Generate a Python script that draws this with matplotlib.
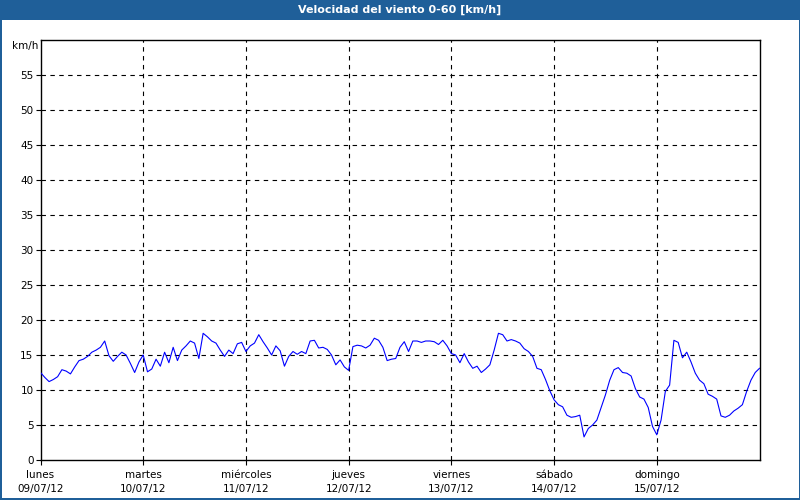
import numpy as np
import matplotlib
matplotlib.use("Agg")
import matplotlib.pyplot as plt
from matplotlib.patches import Rectangle

title = "Velocidad del viento 0-60 [km/h]"
unit_label = "km/h"
day_names = ["lunes", "martes", "miércoles", "jueves", "viernes", "sábado", "domingo"]
day_dates = ["09/07/12", "10/07/12", "11/07/12", "12/07/12", "13/07/12", "14/07/12", "15/07/12"]

# hourly wind speed (km/h), one list per day
mon = [12.5, 11.8, 11.2, 11.5, 11.9, 12.9, 12.7, 12.3, 13.3, 14.2, 14.4, 14.8,
       15.4, 15.7, 16.1, 17.0, 14.9, 14.1, 14.8, 15.4, 15.0, 13.8, 12.5, 14.0]
tue = [15.0, 12.6, 13.0, 14.4, 13.4, 15.4, 13.9, 16.1, 14.2, 15.7, 16.3, 17.0,
       16.7, 14.5, 18.1, 17.6, 17.0, 16.7, 15.7, 14.8, 15.7, 15.2, 16.6, 16.8]
wed = [15.5, 16.3, 16.7, 17.9, 16.9, 16.0, 15.0, 16.3, 15.6, 13.4, 14.8, 15.5,
       15.1, 15.5, 15.2, 17.0, 17.1, 16.0, 16.1, 15.8, 15.0, 13.6, 14.3, 13.3]
thu = [12.8, 16.2, 16.4, 16.3, 16.0, 16.4, 17.4, 17.1, 16.1, 14.2, 14.4, 14.5,
       16.1, 16.9, 15.5, 17.0, 17.0, 16.8, 17.0, 17.0, 16.9, 16.5, 17.1, 16.3]
fri = [15.2, 15.0, 13.9, 15.2, 14.0, 13.1, 13.4, 12.5, 13.0, 13.6, 15.7, 18.1,
       17.9, 17.0, 17.2, 17.0, 16.7, 15.9, 15.5, 14.8, 13.1, 12.9, 11.5, 9.9]
sat = [8.6, 7.9, 7.6, 6.4, 6.1, 6.2, 6.4, 3.3, 4.5, 5.0, 5.7, 7.5,
       9.3, 11.4, 12.9, 13.2, 12.5, 12.4, 12.0, 10.2, 9.0, 8.7, 7.5, 4.8]
sun = [3.6, 5.7, 9.8, 10.7, 17.1, 16.8, 14.6, 15.4, 14.0, 12.4, 11.4, 10.9,
       9.4, 9.1, 8.7, 6.3, 6.1, 6.4, 7.0, 7.4, 7.9, 9.8, 11.4, 12.5, 13.1]

speed = np.array(mon + tue + wed + thu + fri + sat + sun)
t = np.arange(len(speed)) / 24.0  # days since start

W, H = 800, 500
fig = plt.figure(figsize=(8, 5), dpi=100)
fig.patch.set_facecolor("white")

bar_blue = "#1f5f99"
fig.patches.append(Rectangle((0, 1 - 20 / H), 1, 20 / H, transform=fig.transFigure,
                             facecolor=bar_blue, edgecolor="none", zorder=0))
fig.patches.append(Rectangle((0, 0), 1.5 / W, 1, transform=fig.transFigure,
                             facecolor=bar_blue, edgecolor="none"))
fig.patches.append(Rectangle((1 - 1.5 / W, 0), 1.5 / W, 1, transform=fig.transFigure,
                             facecolor=bar_blue, edgecolor="none"))
fig.patches.append(Rectangle((0, 0), 1, 2 / H, transform=fig.transFigure,
                             facecolor=bar_blue, edgecolor="none"))
fig.text(0.5, 1 - 10 / H, title, color="white", fontsize=8, fontweight="bold",
         ha="center", va="center", family="DejaVu Sans")

x0, x1 = 40.5, 759.5
y0, y1 = 460, 40
ax = fig.add_axes([x0 / W, 1 - y0 / H, (x1 - x0) / W, (y0 - y1) / H])
ax.set_xlim(0, 7)
ax.set_ylim(0, 60)

for yv in range(5, 60, 5):
    ax.axhline(yv, color="black", lw=0.8, dashes=(4, 4), zorder=1)
for d in range(1, 7):
    ax.axvline(d, color="black", lw=0.8, dashes=(4, 4), zorder=1)

ax.plot(t, speed, color="#0000ff", lw=0.8, zorder=3)

ax.set_yticks(range(0, 60, 5))
ax.set_yticklabels([str(v) for v in range(0, 60, 5)])
ax.set_xticks(range(0, 7))
ax.set_xticklabels([f"{n}\n{d}" for n, d in zip(day_names, day_dates)])
ax.tick_params(axis="both", direction="out", length=3.5, width=0.8, color="black",
               labelsize=7.5)
ax.tick_params(axis="y", pad=1.5)
ax.tick_params(axis="x", pad=4)
for lab in ax.get_xticklabels():
    lab.set_linespacing(1.5)
for s in ax.spines.values():
    s.set_linewidth(1.0)
    s.set_color("black")

ax.text(-0.0035, 59.1, unit_label, transform=ax.get_yaxis_transform(),
        ha="right", va="center", fontsize=7.5)

fig.savefig("out.png", dpi=100)
